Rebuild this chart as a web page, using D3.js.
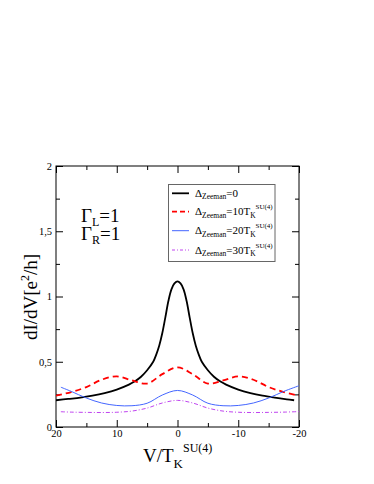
<!DOCTYPE html>
<html>
<head>
<meta charset="utf-8">
<script src="https://cdn.jsdelivr.net/npm/d3@7"></script>
<style>
  html, body { margin: 0; padding: 0; background: #fff; }
  svg { display: block; }
  text { font-family: "Liberation Serif", "DejaVu Serif", serif; fill: #000; }
</style>
</head>
<body>
<svg id="chart" width="374" height="484"></svg>
<script>
// ---- data ----
const xTickValues = [20, 10, 0, -10, -20];
const xTickLabels = ["20", "10", "0", "-10", "-20"];
const xMinorTicks = [15, 5, -5, -15];
const yTickValues = [0, 0.5, 1, 1.5, 2];
const yTickLabels = ["0", "0,5", "1", "1,5", "2"];
const yMinorTicks = [0.25, 0.75, 1.25, 1.75];

const vBlack = [20, 18, 16, 14, 12, 10, 8, 7, 6, 5, 4, 3.5, 3, 2.5, 2, 1.5, 1, 0.5, 0,
  -0.5, -1, -1.5, -2, -2.5, -3, -3.5, -4, -5, -6, -7, -8, -10, -12, -14, -16, -18, -19.2];
const gBlack = [0.205, 0.215, 0.225, 0.24, 0.26, 0.287, 0.325, 0.35, 0.385, 0.435, 0.50, 0.555, 0.625, 0.72, 0.84, 0.965, 1.055, 1.10, 1.116,
  1.10, 1.055, 0.965, 0.84, 0.72, 0.625, 0.555, 0.50, 0.435, 0.385, 0.35, 0.325, 0.287, 0.26, 0.24, 0.225, 0.212, 0.205];

const vRed = [20, 17.5, 15, 12.5, 10, 7.5, 5, 2.5, 0, -2.5, -5, -7.5, -10, -12.5, -15, -17.5, -20];
const gRed = [0.24, 0.268, 0.306, 0.362, 0.388, 0.357, 0.333, 0.405, 0.457, 0.405, 0.333, 0.357, 0.388, 0.362, 0.306, 0.268, 0.24];

const vBlue = [19.2, 17.5, 15, 12.5, 10, 7.5, 5, 2.5, 0, -2.5, -5, -7.5, -10, -12.5, -15, -17.5, -20];
const gBlue = [0.305, 0.273, 0.222, 0.184, 0.165, 0.163, 0.182, 0.245, 0.28, 0.245, 0.182, 0.163, 0.165, 0.184, 0.222, 0.273, 0.316];

const vViolet = [19.2, 17.5, 15, 12.5, 10, 7.5, 5, 2.5, 0, -2.5, -5, -7.5, -10, -12.5, -15, -17.5, -20];
const gViolet = [0.117, 0.114, 0.112, 0.111, 0.113, 0.122, 0.145, 0.184, 0.204, 0.184, 0.145, 0.122, 0.113, 0.111, 0.112, 0.114, 0.118];

const seriesNames = ["0", "10T", "20T", "30T"];

// ---- layout ----
const svg = d3.select("#chart");
const L = 56, R = 299, T = 166, B = 427;
const x = d3.scaleLinear().domain([20, -20]).range([L, R]);
const y = d3.scaleLinear().domain([0, 2]).range([B, T]);

// frame
svg.append("rect").attr("x", L).attr("y", T).attr("width", R - L).attr("height", B - T)
  .attr("fill", "none").attr("stroke", "#000").attr("stroke-width", 1);

function styleAxis(g) {
  g.select(".domain").remove();
  g.selectAll("line").attr("stroke", "#000");
  g.selectAll("text").style("font-family", "Liberation Serif, serif").style("font-size", "10.5px").attr("fill", "#000");
}

// bottom axis
svg.append("g").attr("transform", `translate(0,${B})`)
  .call(d3.axisBottom(x).tickValues(xTickValues).tickSize(-7).tickPadding(3)
    .tickFormat((d, i) => xTickLabels[i])).call(styleAxis);
svg.append("g").attr("transform", `translate(0,${B})`)
  .call(d3.axisBottom(x).tickValues(xMinorTicks).tickSize(-4).tickFormat("")).call(styleAxis);
// top axis
svg.append("g").attr("transform", `translate(0,${T})`)
  .call(d3.axisTop(x).tickValues(xTickValues).tickSize(-7).tickFormat("")).call(styleAxis);
svg.append("g").attr("transform", `translate(0,${T})`)
  .call(d3.axisTop(x).tickValues(xMinorTicks).tickSize(-4).tickFormat("")).call(styleAxis);
// left axis
svg.append("g").attr("transform", `translate(${L},0)`)
  .call(d3.axisLeft(y).tickValues(yTickValues).tickSize(-7).tickPadding(4)
    .tickFormat((d, i) => yTickLabels[i])).call(styleAxis);
svg.append("g").attr("transform", `translate(${L},0)`)
  .call(d3.axisLeft(y).tickValues(yMinorTicks).tickSize(-4).tickFormat("")).call(styleAxis);
// right axis
svg.append("g").attr("transform", `translate(${R},0)`)
  .call(d3.axisRight(y).tickValues(yTickValues).tickSize(-7).tickFormat("")).call(styleAxis);
svg.append("g").attr("transform", `translate(${R},0)`)
  .call(d3.axisRight(y).tickValues(yMinorTicks).tickSize(-4).tickFormat("")).call(styleAxis);

// curves
const line = d3.line().x(d => x(d[0])).y(d => y(d[1])).curve(d3.curveCatmullRom.alpha(0.5));
const series = [
  { v: vBlack, g: gBlack, color: "#000000", w: 1.8, dash: null },
  { v: vRed, g: gRed, color: "#ff0000", w: 1.8, dash: "6,4" },
  { v: vBlue, g: gBlue, color: "#4466ff", w: 1, dash: null },
  { v: vViolet, g: gViolet, color: "#c044f0", w: 1, dash: "4,2,1,2" }
];
svg.append("clipPath").attr("id", "clip").append("rect")
  .attr("x", L).attr("y", T).attr("width", R - L).attr("height", B - T);
series.forEach(s => {
  const pts = s.v.map((v, i) => [v, s.g[i]]);
  svg.append("path").attr("d", line(pts)).attr("fill", "none")
    .attr("stroke", s.color).attr("stroke-width", s.w)
    .attr("stroke-dasharray", s.dash).attr("clip-path", "url(#clip)");
});

// legend
const lg = svg.append("g");
lg.append("rect").attr("x", 168.5).attr("y", 184.5).attr("width", 106.5).attr("height", 77)
  .attr("fill", "#fff").attr("stroke", "#666").attr("stroke-width", 1);
const ly = [193.3, 211.7, 230.7, 250];
series.forEach((s, i) => {
  lg.append("line").attr("x1", 172).attr("x2", 189).attr("y1", ly[i]).attr("y2", ly[i])
    .attr("stroke", s.color).attr("stroke-width", s.w).attr("stroke-dasharray", s.dash ? (i === 1 ? "5,3" : "3,2,1,2") : null);
  const t = lg.append("text").attr("x", 195).attr("y", ly[i] + 3.5).style("font-size", "11px");
  t.append("tspan").text("Δ");
  t.append("tspan").attr("dy", 2.5).style("font-size", "7.5px").text("Zeeman");
  t.append("tspan").attr("dy", -2.5).text("=" + seriesNames[i]);
  if (i > 0) {
    t.append("tspan").attr("dy", 2.5).style("font-size", "7.5px").text("K");
    t.append("tspan").attr("dy", -8.5).style("font-size", "7px").text("SU(4)");
  }
});

// Gamma annotations
const g1 = svg.append("text").attr("x", 81).attr("y", 222).style("font-size", "19px");
g1.append("tspan").text("Γ");
g1.append("tspan").attr("dy", 3.5).style("font-size", "12px").text("L");
g1.append("tspan").attr("dy", -3.5).text("=1");
const g2 = svg.append("text").attr("x", 81).attr("y", 240).style("font-size", "19px");
g2.append("tspan").text("Γ");
g2.append("tspan").attr("dy", 3.5).style("font-size", "12px").text("R");
g2.append("tspan").attr("dy", -3.5).text("=1");

// axis titles
const xt = svg.append("text").attr("x", 143).attr("y", 462).style("font-size", "19px");
xt.append("tspan").text("V/T");
xt.append("tspan").attr("dy", 6).style("font-size", "13px").text("K");
xt.append("tspan").attr("dy", -16).style("font-size", "12px").text("SU(4)");

const yt = svg.append("text").attr("transform", "translate(37,297) rotate(-90)")
  .attr("text-anchor", "middle").style("font-size", "19px");
yt.append("tspan").text("dI/dV[e");
yt.append("tspan").attr("dy", -8).style("font-size", "12px").text("2");
yt.append("tspan").attr("dy", 8).text("/h]");
</script>
</body>
</html>
